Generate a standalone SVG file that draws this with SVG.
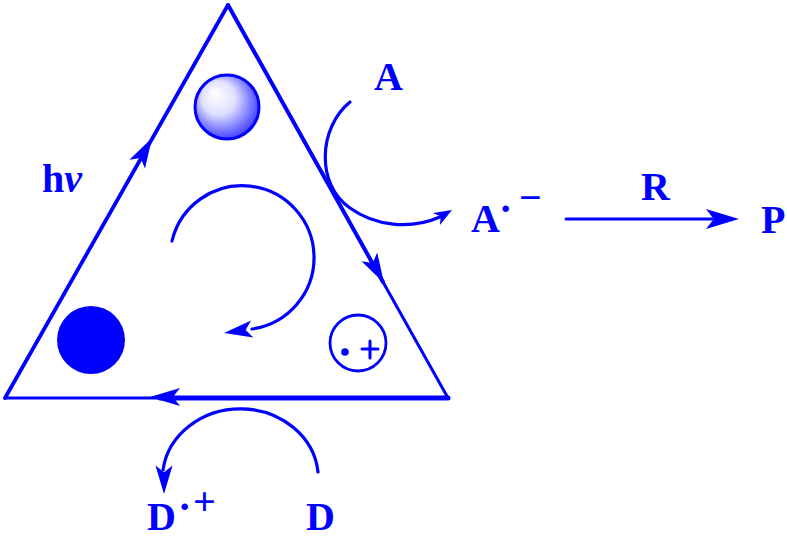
<svg xmlns="http://www.w3.org/2000/svg" width="787" height="539" viewBox="0 0 787 539">
<defs>
  <radialGradient id="sph" cx="0.45" cy="0.45" r="0.58" fx="0.3" fy="0.28">
    <stop offset="0" stop-color="#ffffff"/>
    <stop offset="0.45" stop-color="#e0e0ff"/>
    <stop offset="1" stop-color="#3a3aff"/>
  </radialGradient>
  <path id="ah" d="M0,0 L-30,-9 L-23,0 L-30,9 Z"/>
  <path id="ahs" d="M0,0 L-18,-7 L-13,0 L-18,7 Z"/>
</defs>
<style>
  .ln { stroke:#0000ff; fill:none; stroke-linecap:round; }
  .fill { fill:#0000ff; }
  .lbl { font-family:"Liberation Serif","Times New Roman",serif; font-weight:bold; fill:#0000ff; font-size:40px; }
</style>
<rect width="787" height="539" fill="#ffffff"/>

<g id="triangle">
  <line class="ln" x1="5" y1="398" x2="228" y2="5" stroke-width="3.8"/>
  <line class="ln" x1="228" y1="5" x2="383" y2="282" stroke-width="4"/>
  <line class="ln" x1="383" y1="282" x2="448" y2="398" stroke-width="3"/>
  <line class="ln" x1="448" y1="398" x2="160" y2="398" stroke-width="5"/>
  <line class="ln" x1="160" y1="398" x2="5" y2="398" stroke-width="3"/>
  <use href="#ah" class="fill" transform="translate(152,138) rotate(-60.4)"/>
  <use href="#ah" class="fill" transform="translate(384,283) rotate(60.8)"/>
  <use href="#ah" class="fill" transform="translate(150,397) rotate(180)"/>
</g>

<g id="sphere">
  <circle cx="227" cy="107" r="32" fill="url(#sph)" stroke="#0000ff" stroke-width="3"/>
</g>

<g id="ball">
  <circle cx="91" cy="340" r="34" fill="#0000ff"/>
</g>

<g id="cation">
  <circle cx="358" cy="343" r="28" fill="none" stroke="#0000ff" stroke-width="2.8"/>
  <circle cx="345" cy="352" r="3.8" fill="#0000ff"/>
  <line class="ln" x1="362" y1="349" x2="378" y2="349" stroke-width="3"/>
  <line class="ln" x1="370" y1="341" x2="370" y2="358" stroke-width="3"/>
</g>

<g id="connectors">
  <path class="ln" stroke-width="3.2" d="M172,241 A72,72 0 1 1 252,329"/>
  <use href="#ah" class="fill" transform="translate(224,333) rotate(172) scale(0.95)"/>
  <path class="ln" stroke-width="3.2" d="M350,102 C318,128 316,185 350,208 C375,226 410,230 440,217"/>
  <use href="#ahs" class="fill" transform="translate(452,210) rotate(-30)"/>
  <path class="ln" stroke-width="3.2" d="M318,472 A78,70 0 0 0 163,470"/>
  <use href="#ah" class="fill" transform="translate(164,494) rotate(90) scale(0.95)"/>
  <line class="ln" x1="566" y1="219" x2="712" y2="219" stroke-width="3"/>
  <use href="#ah" class="fill" transform="translate(739,219) scale(1.1)"/>
</g>

<g id="labels">
  <text class="lbl" x="374" y="90">A</text>
  <text class="lbl" x="471" y="232">A</text>
  <text class="lbl" x="499" y="222" font-size="44">·</text>
  <text class="lbl" x="519" y="211" font-size="32">−</text>
  <text class="lbl" x="641" y="200">R</text>
  <text class="lbl" x="761" y="233">P</text>
  <text class="lbl" x="147" y="530">D</text>
  <text class="lbl" x="178" y="520" font-size="44">·</text>
  <text class="lbl" x="193" y="515" font-size="32">+</text>
  <text class="lbl" x="306" y="530">D</text>
  <text class="lbl" x="42" y="192" font-size="42">h<tspan font-style="italic">ν</tspan></text>
</g>
</svg>
